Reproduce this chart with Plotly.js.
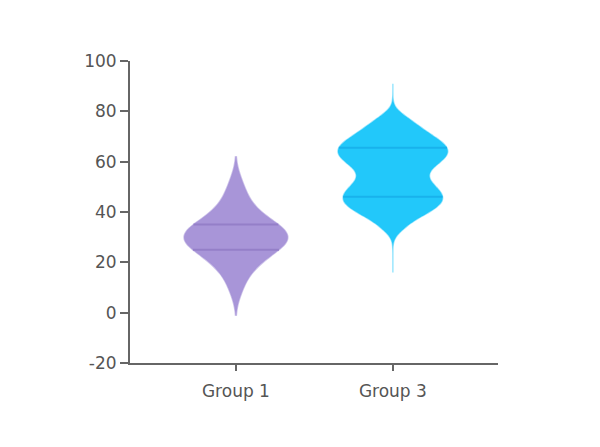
<!DOCTYPE html>
<html>
<head>
<meta charset="utf-8">
<script src="https://cdn.plot.ly/plotly-3.0.1.min.js"></script>
<style>html,body{margin:0;padding:0;background:#fff;}#chart{width:600px;height:447px;}</style>
</head>
<body>
<div id="chart"></div>
<script>
const categories = ["Group 1", "Group 3"];
const positions = [0, 1];
const group1 = [8, 12, 15, 17, 19, 20, 21, 22, 23, 24, 25, 25, 26, 27, 27, 28, 28, 29, 29, 30, 30,
  30, 31, 31, 32, 32, 33, 33, 34, 35, 35, 36, 37, 38, 39, 40, 42, 44, 46, 49, 53];
const group3 = [33.6, 36.8, 38.5, 39.8, 40.9, 41.9, 42.8, 43.7, 44.5, 45.3, 46.1, 47.0, 47.8, 48.7,
  49.6, 50.7, 51.8, 53.0, 54.4, 55.7, 57.0, 58.1, 59.2, 60.1, 61.0, 61.7, 62.5, 63.3, 64.0, 64.8,
  65.5, 66.3, 67.0, 67.9, 68.8, 69.8, 70.9, 72.1, 73.6, 75.3, 77.8];
const yTicks = [-20, 0, 20, 40, 60, 80, 100];
const yTickLabels = ["-20", "0", "20", "40", "60", "80", "100"];

const series = [group1, group3];
const spans = [[-1, 62], [16, 91]];
const fills = ["rgba(168,149,216,1)", "rgba(34,200,250,1)"];
const edges = ["rgba(168,149,216,0.55)", "rgba(34,200,250,0.45)"];
const lineCols = ["rgba(148,127,200,1)", "rgba(24,178,236,1)"];
const bws = [4.6, 2.8];
const widths = [0.66, 0.70];

function kde(data, bw, y) {
  let s = 0;
  for (const v of data) { const z = (y - v) / bw; s += Math.exp(-0.5 * z * z); }
  return s;
}
function quantile(data, p) {
  const a = data.slice().sort((x, y) => x - y);
  const pos = (a.length - 1) * p, lo = Math.floor(pos), hi = Math.ceil(pos);
  return a[lo] + (a[hi] - a[lo]) * (pos - lo);
}

const traces = [];
series.forEach((d, i) => {
  traces.push({
    type: "violin", y: d, x0: positions[i], name: categories[i],
    bandwidth: bws[i], width: widths[i], spanmode: "manual", span: spans[i], scalemode: "width",
    points: false, box: {visible: false}, meanline: {visible: false},
    fillcolor: fills[i], line: {color: edges[i], width: 1.5},
    hoverinfo: "skip", showlegend: false
  });
  const bw = bws[i];
  const lo = spans[i][0], hi = spans[i][1];
  let maxK = 0;
  for (let k = 0; k <= 800; k++) { const y = lo + (hi - lo) * k / 800; maxK = Math.max(maxK, kde(d, bw, y)); }
  [0.25, 0.75].forEach(p => {
    const q = quantile(d, p);
    const hw = kde(d, bw, q) / maxK * widths[i] / 2;
    traces.push({
      type: "scatter", mode: "lines", x: [positions[i] - hw, positions[i] + hw], y: [q, q],
      line: {color: lineCols[i], width: 2}, hoverinfo: "skip", showlegend: false
    });
  });
});

const layout = {
  width: 600, height: 447,
  margin: {l: 130, r: 102, t: 61, b: 84},
  paper_bgcolor: "#ffffff", plot_bgcolor: "#ffffff",
  font: {family: "'DejaVu Sans', sans-serif", size: 17, color: "#555555"},
  showlegend: false, violinmode: "overlay",
  xaxis: {
    range: [-0.675, 1.67], tickvals: positions, ticktext: categories,
    showgrid: false, zeroline: false, showline: true, linecolor: "#666", linewidth: 2,
    ticks: "outside", ticklen: 6, tickwidth: 1.5, tickcolor: "#666", ticklabelstandoff: 6,
    fixedrange: true
  },
  yaxis: {
    range: [-20, 100], tickvals: yTicks, ticktext: yTickLabels, showgrid: false, zeroline: false,
    showline: true, linecolor: "#666", linewidth: 2,
    ticks: "outside", ticklen: 8, tickwidth: 2, tickcolor: "#666", fixedrange: true
  }
};
Plotly.newPlot("chart", traces, layout, {staticPlot: true});
</script>
</body>
</html>
